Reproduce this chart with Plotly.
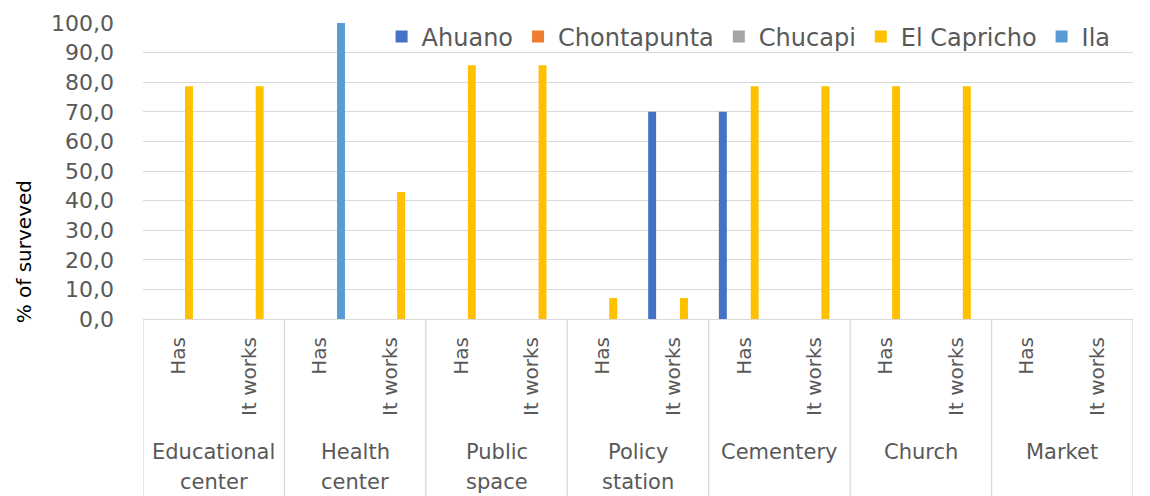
import plotly.graph_objects as go

groups = ["Educational center", "Health center", "Public space", "Policy station",
          "Cementery", "Church", "Market"]
subs = ["Has", "It works"]
series = ["Ahuano", "Chontapunta", "Chucapi", "El Capricho", "Ila"]
colors = ["#4472C4", "#ED7D31", "#A5A5A5", "#FFC000", "#5B9BD5"]

# values per category (14 = 7 groups x 2 subs), in order Has, It works per group
ahuano      = [0, 0, 0, 0, 0, 0, 0, 70.0, 70.0, 0, 0, 0, 0, 0]
chontapunta = [0, 0, 0, 0, 0, 0, 0, 0, 0, 0, 0, 0, 0, 0]
chucapi     = [0, 0, 0, 0, 0, 0, 0, 0, 0, 0, 0, 0, 0, 0]
el_capricho = [78.6, 78.6, 0, 42.9, 85.7, 85.7, 7.1, 7.1, 78.6, 78.6, 78.6, 78.6, 0, 0]
ila         = [0, 0, 100.0, 0, 0, 0, 0, 0, 0, 0, 0, 0, 0, 0]
values = [ahuano, chontapunta, chucapi, el_capricho, ila]

yticks = [0, 10, 20, 30, 40, 50, 60, 70, 80, 90, 100]
ytitle = "% of surveved"

xpos = list(range(len(groups) * len(subs)))
xlabels = [s for g in groups for s in subs]

FONT = "DejaVu Sans"
GRAY = "#595959"

fig = go.Figure()
for name, col, vals in zip(series, colors, values):
    fig.add_trace(go.Bar(x=xpos, y=vals, name=name, marker=dict(color=col, line=dict(width=0))))

shapes = []
for i in range(len(groups) + 1):
    xv = -0.5 + 2 * i
    shapes.append(dict(type="line", xref="x", yref="paper", x0=xv, x1=xv, y0=0, y1=-0.62,
                       line=dict(color="#D9D9D9", width=1.3)))

annotations = []
for i, g in enumerate(groups):
    parts = g.split(" ")
    lines = [parts[0], " ".join(parts[1:])] if len(parts) > 1 else [g]
    for j, ln in enumerate(lines):
        annotations.append(dict(x=2 * i + 0.5, xref="x", y=-0.449 - j * 0.102, yref="paper",
                                text=ln, showarrow=False, xanchor="center", yanchor="middle",
                                font=dict(family=FONT, size=21, color=GRAY)))
annotations.append(dict(x=-0.12, xref="paper", y=0.226, yref="paper", text=ytitle,
                        textangle=-90, showarrow=False, xanchor="center", yanchor="middle",
                        font=dict(family=FONT, size=20, color="#000000")))

# page body has an 8px margin: figure is sized/margined so the plot area lands at x 143-1133, y 23-319
fig.update_layout(
    width=1142, height=488,
    margin=dict(l=135, r=17, t=15, b=177, autoexpand=False),
    paper_bgcolor="white", plot_bgcolor="white",
    separators=",.",
    barmode="group", bargap=0.25, bargroupgap=0.25,
    font=dict(family=FONT, color=GRAY),
    shapes=shapes, annotations=annotations,
    legend=dict(orientation="h", x=0.241, y=0.953, xanchor="left", yanchor="middle",
                font=dict(family=FONT, size=24, color=GRAY), bgcolor="rgba(0,0,0,0)",
                itemwidth=30, tracegroupgap=0),
    showlegend=True,
)
fig.update_xaxes(range=[-0.5, 13.5], tickmode="array", tickvals=xpos, ticktext=xlabels,
                 tickangle=-90, ticks="", showgrid=False, zeroline=False, showline=False,
                 ticklabelstandoff=13, automargin=False,
                 tickfont=dict(family=FONT, size=20, color=GRAY))
fig.update_yaxes(range=[0, 100], tickmode="array", tickvals=yticks, tickformat=".1f",
                 showgrid=True, gridcolor="#D9D9D9", gridwidth=1.3, zeroline=True,
                 zerolinecolor="#D9D9D9", zerolinewidth=1.3, showline=False, ticks="",
                 ticklabelstandoff=28, automargin=False,
                 tickfont=dict(family=FONT, size=22, color=GRAY))
fig.write_html("out.html")
